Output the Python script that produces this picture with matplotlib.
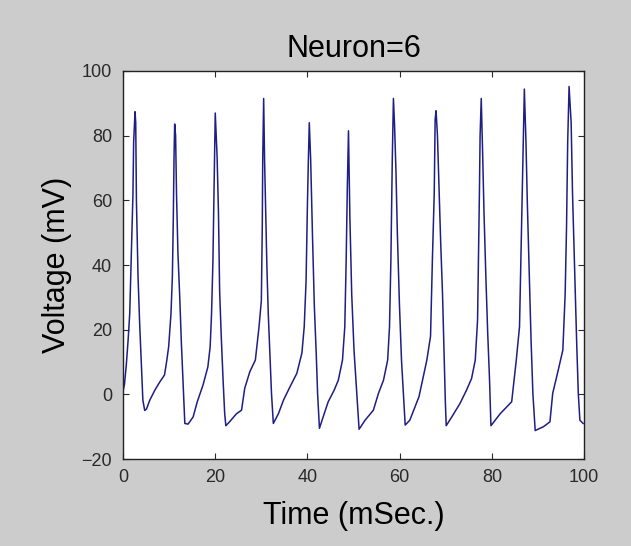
#!/usr/bin/env python3
"""Membrane voltage trace of a single simulated neuron."""

import matplotlib
matplotlib.use("Agg")
import matplotlib.pyplot as plt


NEURON_ID = 6

time_ms = [
    0.0, 0.3, 0.7, 1.1, 1.45, 1.8, 2.15, 2.3, 2.6,
    2.75, 2.9, 3.25, 3.6, 4.0, 4.3, 4.7,
    5.1, 5.8, 6.9, 8.0, 9.0, 9.5, 9.9, 10.4, 10.7, 10.9, 11.06, 11.2,
    11.4, 11.6, 11.9, 12.3, 12.65, 13.0, 13.4,
    14.1, 15.2, 16.1, 17.35, 18.4, 18.9, 19.2, 19.5, 19.7, 19.85, 20.0,
    20.4, 20.7, 20.95, 21.3, 21.7, 22.05, 22.3,
    23.1, 24.6, 25.7, 26.4, 27.5, 28.7, 29.5, 30.0, 30.2, 30.3, 30.5,
    30.7, 30.95, 31.2, 31.5, 31.9, 32.2, 32.6,
    33.7, 34.8, 36.2, 37.7, 38.8, 39.3, 39.7, 40.0, 40.2, 40.4,
    40.7, 41.1, 41.5, 41.9, 42.2, 42.6,
    43.4, 44.5, 45.8, 46.7, 47.6, 48.1, 48.4, 48.65, 48.9,
    49.2, 49.6, 50.1, 50.7, 51.2,
    52.5, 54.3, 55.4, 56.5, 57.4, 57.8, 58.1, 58.4, 58.65,
    58.9, 59.2, 59.5, 59.95, 60.4, 60.8, 61.2,
    62.2, 64.2, 65.9, 66.7, 67.1, 67.5, 67.7, 67.9,
    68.2, 68.55, 68.9, 69.3, 69.6, 69.9, 70.1,
    71.3, 73.1, 74.5, 75.6, 76.4, 76.9, 77.1, 77.3, 77.45, 77.7,
    78.0, 78.3, 78.7, 79.1, 79.5, 79.8,
    81.8, 84.3, 85.3, 86.0, 86.3, 86.6, 86.84, 87.05,
    87.4, 87.7, 88.1, 88.5, 88.9, 89.4,
    91.2, 92.6, 93.2, 94.4, 95.4, 95.9, 96.2, 96.45, 96.75,
    97.2, 97.5, 98.0, 98.4, 98.75, 99.1, 99.8,
]

voltage_mv = [
    1.0, 3.0, 9.0, 16.8, 25.0, 44.0, 62.0, 78.0, 87.4,
    84.0, 60.0, 36.4, 22.0, 8.5, -1.8, -5.0,
    -4.5, -1.8, 1.3, 3.9, 6.0, 10.6, 14.8, 25.0, 36.4, 54.0, 73.6, 83.6,
    80.0, 62.0, 44.0, 30.0, 16.0, 4.4, -9.0,
    -9.2, -7.0, -2.3, 2.9, 8.5, 14.8, 25.0, 41.5, 60.0, 73.6, 87.0,
    73.6, 56.0, 32.0, 18.0, 4.4, -6.0, -9.7,
    -8.5, -6.0, -4.9, 1.9, 7.0, 10.6, 20.9, 29.0, 51.8, 72.5, 91.5,
    72.5, 56.0, 39.6, 25.0, 10.6, 0.3, -9.0,
    -6.0, -1.8, 2.3, 6.5, 12.8, 20.9, 35.0, 59.0, 72.5, 84.0,
    72.5, 48.6, 27.0, 12.8, 0.3, -10.5,
    -7.0, -2.3, 1.3, 4.4, 10.6, 20.9, 41.5, 64.0, 81.5,
    55.0, 31.0, 13.7, 0.3, -10.8,
    -8.0, -4.9, 0.3, 4.4, 10.6, 20.9, 41.5, 72.5, 91.5,
    83.0, 69.0, 50.0, 28.0, 10.6, 0.3, -9.5,
    -8.0, -0.7, 10.6, 18.0, 41.5, 62.0, 85.0, 87.7,
    80.0, 63.0, 47.0, 31.0, 14.8, -1.8, -9.7,
    -7.0, -2.8, 1.3, 4.9, 10.6, 23.0, 41.5, 62.0, 80.0, 91.5,
    74.6, 56.0, 36.4, 19.0, 4.4, -9.7,
    -6.0, -2.3, 10.6, 20.9, 41.5, 62.0, 78.0, 94.4,
    78.0, 59.0, 38.5, 17.0, 0.3, -11.2,
    -10.0, -8.5, 0.3, 7.5, 13.7, 31.0, 51.8, 78.0, 95.2,
    84.0, 62.0, 36.4, 16.0, 0.3, -8.0, -9.0,
]

x_ticks = [0, 20, 40, 60, 80, 100]
y_ticks = [-20, 0, 20, 40, 60, 80, 100]

plt.rcParams["font.family"] = ["Liberation Sans", "DejaVu Sans"]

fig = plt.figure(figsize=(6.31, 5.46), dpi=100, facecolor="#cccccc")
ax = fig.add_axes([0.195, 0.1593, 0.7306, 0.7107])
ax.set_facecolor("white")

ax.plot(time_ms, voltage_mv, color="#1e1e84", lw=1.1)

ax.set_xlim(0, 100)
ax.set_ylim(-20, 100)
ax.set_xticks(x_ticks)
ax.set_yticks(y_ticks)
ax.tick_params(direction="in", length=4, width=0.8, labelsize=13,
               colors="#2a2a2a", top=True, right=True)
ax.tick_params(axis="x", pad=7)
ax.tick_params(axis="y", pad=8)
for spine in ax.spines.values():
    spine.set_color("#222222")
    spine.set_linewidth(1.0)

ax.set_title(f"Neuron={NEURON_ID}", fontsize=22, pad=10)
ax.set_xlabel("Time (mSec.)", fontsize=22, labelpad=11)
ax.set_ylabel("Voltage (mV)", fontsize=22, labelpad=7)

fig.savefig("out.png", dpi=100, facecolor=fig.get_facecolor())
